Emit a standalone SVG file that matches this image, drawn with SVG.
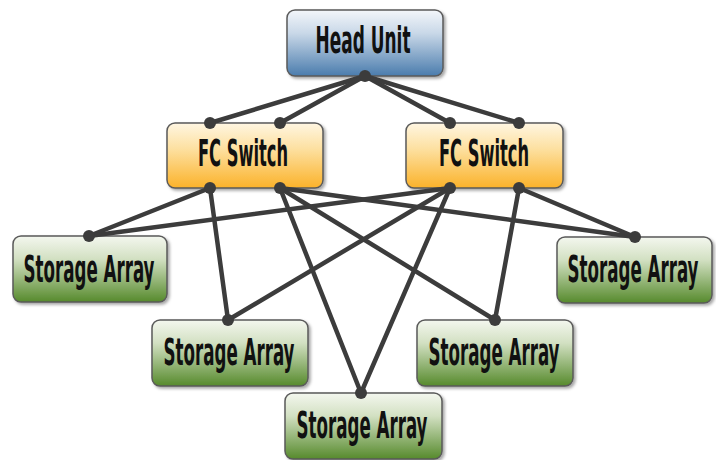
<svg xmlns="http://www.w3.org/2000/svg" width="716" height="460" viewBox="0 0 716 460">
<defs>
<linearGradient id="gBlue" x1="0" y1="0" x2="0" y2="1"><stop offset="0" stop-color="#f3f6fa"/><stop offset="0.35" stop-color="#c9d8e8"/><stop offset="1" stop-color="#4a7cad"/></linearGradient>
<linearGradient id="gOrange" x1="0" y1="0" x2="0" y2="1"><stop offset="0" stop-color="#fff6e2"/><stop offset="0.4" stop-color="#fde0a0"/><stop offset="1" stop-color="#fbb22a"/></linearGradient>
<linearGradient id="gGreen" x1="0" y1="0" x2="0" y2="1"><stop offset="0" stop-color="#f4f7ef"/><stop offset="0.35" stop-color="#d2e0c2"/><stop offset="1" stop-color="#568a2c"/></linearGradient>
<filter id="sh" x="-10%" y="-10%" width="125%" height="130%"><feDropShadow dx="2" dy="2" stdDeviation="1.5" flood-color="#000" flood-opacity="0.35"/></filter>
</defs>
<style>
.box{stroke:#5a5a5a;stroke-width:1.5;filter:url(#sh)}
.lbl{font-family:"DejaVu Sans Condensed","Liberation Sans Narrow","Liberation Sans",sans-serif;font-weight:bold;font-size:37px;fill:#111;text-anchor:middle}
.conn line{stroke:#3c3c3c;stroke-width:4.5;stroke-linecap:round}
.conn circle{fill:#3c3c3c}
</style>
<rect width="716" height="460" fill="#fff"/>
<g id="head-unit"><rect class="box" x="287" y="10" width="156" height="66" rx="8" fill="url(#gBlue)"/><text class="lbl" transform="translate(363 53) scale(0.5 1)" x="0" y="0" textLength="190" lengthAdjust="spacingAndGlyphs">Head Unit</text></g>
<g id="fc-switch-1"><rect class="box" x="167" y="123" width="156" height="65" rx="8" fill="url(#gOrange)"/><text class="lbl" transform="translate(243 166) scale(0.5 1)" x="0" y="0" textLength="180" lengthAdjust="spacingAndGlyphs">FC Switch</text></g>
<g id="fc-switch-2"><rect class="box" x="406" y="123" width="157" height="65" rx="8" fill="url(#gOrange)"/><text class="lbl" transform="translate(484 166) scale(0.5 1)" x="0" y="0" textLength="180" lengthAdjust="spacingAndGlyphs">FC Switch</text></g>
<g id="storage-1"><rect class="box" x="13" y="236" width="154" height="66" rx="8" fill="url(#gGreen)"/><text class="lbl" transform="translate(89 282) scale(0.5 1)" x="0" y="0" textLength="262" lengthAdjust="spacingAndGlyphs">Storage Array</text></g>
<g id="storage-2"><rect class="box" x="152" y="320" width="156" height="66" rx="8" fill="url(#gGreen)"/><text class="lbl" transform="translate(229 365) scale(0.5 1)" x="0" y="0" textLength="262" lengthAdjust="spacingAndGlyphs">Storage Array</text></g>
<g id="storage-3"><rect class="box" x="285" y="393" width="157" height="66" rx="8" fill="url(#gGreen)"/><text class="lbl" transform="translate(362 438) scale(0.5 1)" x="0" y="0" textLength="262" lengthAdjust="spacingAndGlyphs">Storage Array</text></g>
<g id="storage-4"><rect class="box" x="417" y="320" width="156" height="66" rx="8" fill="url(#gGreen)"/><text class="lbl" transform="translate(494 365) scale(0.5 1)" x="0" y="0" textLength="262" lengthAdjust="spacingAndGlyphs">Storage Array</text></g>
<g id="storage-5"><rect class="box" x="557" y="237" width="155" height="66" rx="8" fill="url(#gGreen)"/><text class="lbl" transform="translate(633 282) scale(0.5 1)" x="0" y="0" textLength="262" lengthAdjust="spacingAndGlyphs">Storage Array</text></g>
<g id="connectors" class="conn">
<line x1="365" y1="76" x2="210" y2="123"/>
<line x1="365" y1="76" x2="280" y2="123"/>
<line x1="365" y1="76" x2="450" y2="123"/>
<line x1="365" y1="76" x2="519" y2="123"/>
<line x1="210" y1="188" x2="89" y2="236"/>
<line x1="210" y1="188" x2="228" y2="320"/>
<line x1="280" y1="188" x2="361" y2="393"/>
<line x1="280" y1="188" x2="495" y2="320"/>
<line x1="280" y1="188" x2="635" y2="237"/>
<line x1="450" y1="188" x2="89" y2="236"/>
<line x1="450" y1="188" x2="228" y2="320"/>
<line x1="450" y1="188" x2="361" y2="393"/>
<line x1="519" y1="188" x2="495" y2="320"/>
<line x1="519" y1="188" x2="635" y2="237"/>
<circle cx="365" cy="76" r="6"/>
<circle cx="210" cy="123" r="6"/><circle cx="280" cy="123" r="6"/>
<circle cx="450" cy="123" r="6"/><circle cx="519" cy="123" r="6"/>
<circle cx="210" cy="188" r="6"/><circle cx="280" cy="188" r="6"/>
<circle cx="450" cy="188" r="6"/><circle cx="519" cy="188" r="6"/>
<circle cx="89" cy="236" r="6"/><circle cx="228" cy="320" r="6"/>
<circle cx="361" cy="393" r="6"/><circle cx="495" cy="320" r="6"/>
<circle cx="635" cy="237" r="6"/>
</g>
</svg>
